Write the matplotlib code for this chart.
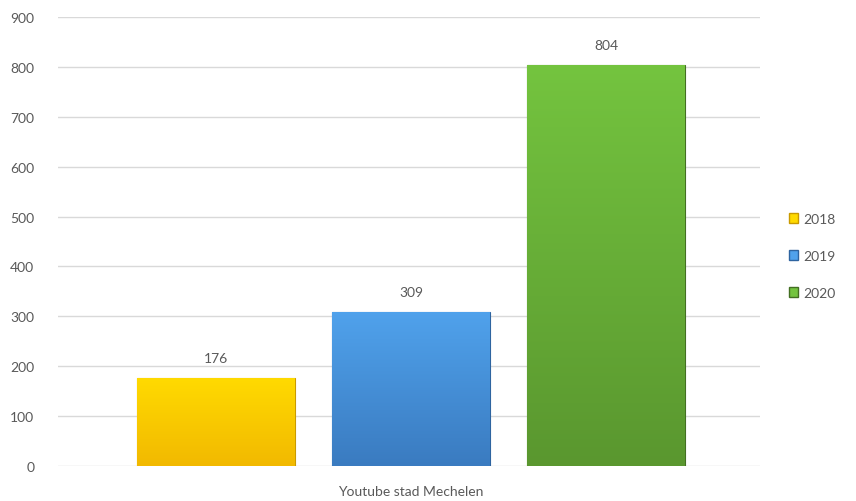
import numpy as np
import matplotlib.pyplot as plt
from matplotlib.colors import LinearSegmentedColormap

years = ['2018', '2019', '2020']
views = [176, 309, 804]
category = 'Youtube stad Mechelen'
yticks = [0, 100, 200, 300, 400, 500, 600, 700, 800, 900]

# (top, bottom, edge) per bar
shades = [('#FFDA00', '#F2B900', '#C99A00'),
          ('#50A2EC', '#3A7BC0', '#2E64A0'),
          ('#74C43F', '#5A972F', '#436F22')]

plt.rcParams['font.family'] = ['Lato', 'DejaVu Sans']
txt = '#595959'
fs = 10

fig = plt.figure(figsize=(8.56, 5.02), dpi=100)
ax = fig.add_axes([58 / 856, 1 - 467 / 502, 702 / 856, 449 / 502])

x = np.arange(len(years))
w = 0.81
bars = ax.bar(x, views, width=w, label=years, zorder=2)

grad = np.linspace(0, 1, 256).reshape(-1, 1)
for b, (top, bot, edge), v in zip(bars, shades, views):
    b.set_facecolor(top)
    b.set_edgecolor(edge)
    b.set_linewidth(0.8)
    cmap = LinearSegmentedColormap.from_list('g', [top, bot])
    x0, y0 = b.get_x(), b.get_y()
    im = ax.imshow(grad, cmap=cmap, aspect='auto', zorder=2.5,
                   extent=[x0, x0 + b.get_width(), y0, y0 + b.get_height()])
    im.set_clip_path(b)
    ax.text(b.get_x() + b.get_width() / 2, v + 28, str(v),
            ha='center', va='bottom', fontsize=fs, color=txt)

ax.set_xlim(-0.81, 2.79)
ax.set_ylim(0, 900)
ax.set_yticks(yticks)
ax.set_xticks([1])
ax.set_xticklabels([category])
ax.grid(axis='y', color='#D9D9D9', linewidth=1, zorder=0)
ax.tick_params(axis='both', length=0, labelsize=fs, labelcolor=txt)
ax.tick_params(axis='y', pad=17)
ax.tick_params(axis='x', pad=14)
for s in ax.spines.values():
    s.set_visible(False)

handles = [plt.Rectangle((0, 0), 1, 1, facecolor=s[0], edgecolor=s[2])
           for s in shades]
fig.legend(handles, years, loc='center left', bbox_to_anchor=(776 / 856, 1 - 257 / 502),
           frameon=False, fontsize=fs, labelcolor=txt, handlelength=0.7,
           handleheight=0.7, handletextpad=0.35, labelspacing=1.8)

fig.savefig('out.png', dpi=100)
